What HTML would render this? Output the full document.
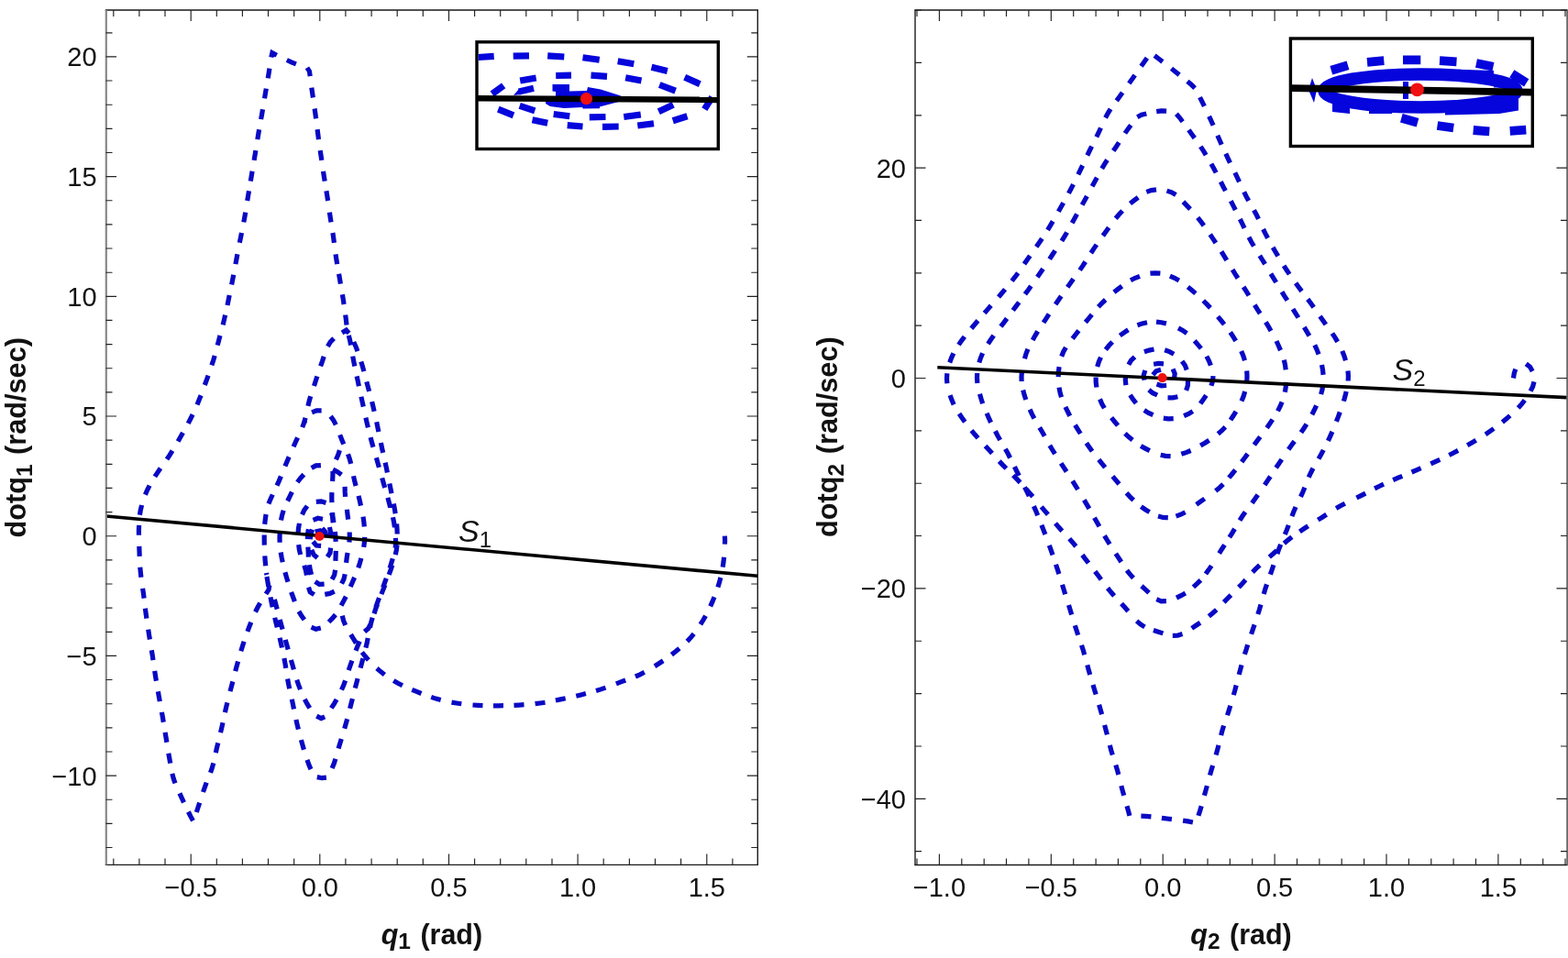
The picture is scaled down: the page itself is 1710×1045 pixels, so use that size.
<!DOCTYPE html>
<html><head><meta charset="utf-8"><title>Phase portraits</title>
<style>html,body{margin:0;padding:0;background:#fff;}svg{display:block;}</style>
</head><body>
<svg width="1710" height="1045" viewBox="0 0 1710 1045">
<rect width="1710" height="1045" fill="#fff"/>
<defs><clipPath id="cl"><rect x="115.5" y="11" width="710.8" height="932.4"/></clipPath>
<clipPath id="cr"><rect x="998" y="11" width="711" height="932.5"/></clipPath>
<clipPath id="cil"><rect x="521.7" y="47.5" width="260" height="113.3"/></clipPath>
<clipPath id="cir"><rect x="1409.2" y="43.8" width="260.3" height="114"/></clipPath></defs>
<g clip-path="url(#cl)">
<path d="M790.4 584.6L790.6 590.1L790.4 593.6M789.6 607.7L789 613.2L788.2 618.6M785.9 630L784.5 635.3L782.9 640.6M779 651.3L776.9 656.4L774.7 661.4M769.5 671.7L766.8 676.5L763.9 681.2M756.7 691.4L753.2 695.6L749.4 699.6M740.9 707.2L736.7 710.7L732.4 714.1M723.2 720.8L718.6 723.8L714 726.8M702.8 733.3L697.9 735.8L692.9 738M682.2 742L677 743.9L671.9 745.9M660.5 750.1L655.3 751.9L650 753.5M638.9 756.6L633.6 758L628.3 759.3M616.7 761.8L611.3 762.9L605.9 764M594.5 766.2L589.1 767L583.6 767.7M571.5 768.7L566 769.1L560.5 769.4M549 769.7L543.5 769.8L538 769.8M526.5 769.7L521 769.4L515.5 769M503.3 767.8L497.9 767L492.5 766.1M480.7 763.5L475.4 762.1L470.2 760.4M459.5 756.5L454.4 754.4L449.3 752.3M438.9 747.8L434 745.3L429.2 742.5M419.4 736L415.1 732.6L411 729M401.9 719.9L398.2 715.8L394.8 711.5M388.4 701.5L385.5 696.9L382.6 692.2M376.7 682L374.6 676.9L373.3 671.6" fill="none" stroke="#0909c4" stroke-width="5.2"/>
<path d="M290.5 625L290.7 626L291 627M293.9 638.4L293 643.3L290 647.9M283.7 657.8L281 662.6L278.5 667.5M273.8 678.7L271.8 683.8L269.9 688.9M266.1 699.8L264.4 705L262.8 710.3M259.6 721.5L258.1 726.8L256.7 732.1M253.8 743.5L252.4 748.8L251 754.1M247.9 766.4L246.6 771.7L245.4 777.1M243 788.3L241.8 793.7L240.5 799.1M237.8 810.4L236.5 815.7L235.3 821.1M232.8 832.4L231.3 837.7L229.5 842.9M225.2 853.7L223.3 858.8L221.5 864M217.7 875.6L216 880.8L214.3 886M210.5 895.2L207.8 890.4L205.4 885.5M200.5 875.3L198.2 870.3L195.9 865.3M191 854.4L189.2 849.2L187.8 843.9M185.7 832.6L184.8 827.2L183.8 821.8M181.9 809.7L181 804.3L180.1 798.9M178.3 787.7L177.4 782.3L176.4 776.9M174.3 765.1L173.3 759.7L172.4 754.3M170.4 742.7L169.5 737.3L168.7 731.9M167 720.1L166.2 714.7L165.3 709.3M163.4 697.5L162.5 692.1L161.7 686.7M159.9 674.6L159.1 669.2L158.4 663.7M157.1 652.7L156.4 647.2L155.6 641.8M153.9 629.7L153.3 624.2L152.8 618.7M152.2 606.8L152 601.3L151.8 595.8M151.4 583.8L151.4 578.3L151.6 572.8M152.4 561.7L153.3 556.3L154.6 551M158.4 539.6L160.6 534.5L163.1 529.6M168.9 519.9L171.9 515.3L175 510.7M182 501L185.1 496.4L188 491.7M194.1 481.6L196.8 476.8L199.5 472M205.2 461.9L207.7 457L210.1 452.1M215 441.4L217.1 436.3L219.1 431.2M223.3 420L225.2 414.8L227.1 409.6M230.9 398.4L232.6 393.2L234.2 387.9M237.2 376.6L238.6 371.3L240 366M243.1 354.3L244.4 349L245.6 343.6M248 332.9L249.1 327.5L250.2 322.1M252.6 310.5L253.7 305.1L254.7 299.7M256.9 288.1L257.9 282.7L258.9 277.3M261.3 264.8L262.4 259.4L263.5 254M265.8 242.4L266.8 237L267.7 231.6M269.7 219L270.6 213.6L271.5 208.2M273.3 197.6L274.2 192.2L275.1 186.8M277.1 174.9L278 169.5L278.9 164.1M280.8 152.1L281.7 146.7L282.6 141.3M284.6 130.1L285.6 124.7L286.5 119.3M288.5 107.4L289.4 102L290.3 96.6M292.2 85.4L293.1 80L293.9 74.6M295.8 62.5L296.9 57.7L301.8 60.2M312.8 65.5L317.8 67.8L322.9 69.8M334.9 73.8L337.4 77.7L338.2 83.2M339.8 95.7L340.6 101.1L341.4 106.5M343.1 118.5L343.9 123.9L344.6 129.4M346.1 141.2L346.8 146.7L347.5 152.1M349.2 164.1L350 169.5L350.8 174.9M352.5 186.8L353.3 192.2L354.2 197.6M355.9 208.2L356.8 213.6L357.6 219M359.4 231.6L360.2 237L361 242.4M362.9 254L363.7 259.4L364.4 264.8M366 277.3L366.8 282.7L367.7 288.1M369.6 298.8L370.5 304.2L371.4 309.6M373.4 321.2L374.3 326.6L375.1 332M376.7 343.5L377.4 349L378 354.5M380.3 365.8L381.6 371.1L382.6 376.5M384.7 388.6L385.7 394L386.8 399.4M389.1 410.4L390.3 415.8L391.4 421.2M393.9 432.8L395.1 438.2L396.3 443.6M398.9 455.6L400.1 461L401.4 466.4M404.1 477.2L405.5 482.5L407 487.8M410.4 499.3L411.9 504.6L413.4 509.9M416.7 521.4L418.2 526.7L419.7 532M422.9 542.9L424.3 548.2L425.7 553.5M428.5 564.3L429.6 569.7L430.4 575.1M431.4 586.9L431.6 592.4L431.2 597.8M428.3 609.2L426.7 614.5L425.1 619.7M421.3 630.9L419.4 636L417.6 641.2M413.5 652.2L411.6 657.4L409.8 662.6M406.2 673.8L404.7 679.1L403.5 684.4M401.2 696L400.2 701.4L398.9 706.7M395.9 718.1L394.5 723.4L393.1 728.7M390.1 740.1L388.7 745.4L387.3 750.7M384.4 762.1L383 767.5L381.6 772.8M378.7 784.2L377.2 789.5L375.7 794.8M372.3 806L370.7 811.2L369.1 816.5M365.9 827.8L364.2 833.1L362.1 838.1M355.9 848.1L351.2 848.7L345.8 847.6M339 839.1L336.8 834.1L335 828.9M331.4 817.7L329.9 812.4L328.4 807.1M325.4 795.7L324.1 790.4L322.9 785M320.5 773.5L319.4 768.1L318.3 762.7M315.7 751.3L314.6 745.9L313.6 740.5M311.8 728.9L310.9 723.4L309.9 718M307.5 706.5L306.3 701.1L305.1 695.8M302.3 684.4L300.9 679L299.7 673.7M297.2 662.2L296 656.8L295 651.4M292.8 639.9L291.9 634.4L291 629M289.7 617.3L289.2 611.9L288.8 606.4M288.3 594.6L288.2 589.1L288.2 583.6M288.7 571.9L289.3 566.4L290.1 561M292.9 549.6L295 544.5L297.3 539.5M302 529.6L304.3 524.6L306.4 519.5M310.9 508.5L313 503.4L315.2 498.4M320.1 487.3L322.3 482.3L324.6 477.3M329.7 466.2L331.6 461.1L333.1 455.8M335.9 442.8L337.2 437.5L338.7 432.2M342.5 421L344.2 415.8L345.9 410.5M349.6 399.3L351.5 394.1L353.2 388.9M357.4 377.8L360.2 373.1L364.1 369.2M373 363L377.6 360.1L380.6 363.4M385.7 373L388 378L390 383.1M393.8 394.5L395.4 399.8L396.9 405.1M399.8 416.3L401.2 421.6L402.6 426.9M405.6 438.1L406.9 443.4L408.1 448.8M410.7 460.3L411.8 465.7L412.9 471.1M415.4 483.1L416.5 488.5L417.7 493.9M420.1 504.6L421.3 510L422.4 515.4M424.8 527.4L425.9 532.8L427 538.2M429.3 549.5L430.3 554.9L431.2 560.3M432.6 571.5L433 577L433.2 582.5M433 594.3L432.4 599.7L431.2 605.1M427.8 616.4L426.1 621.6L424.2 626.8M420 637.8L418 642.9L415.9 648.1M411.6 659L409.7 664.2L408 669.4M404.2 680.6L401.7 685.5L397.5 689M392.2 699.5L390.1 704.6L388 709.7M383.9 720.7L382 725.9L380.2 731.1M376.6 742.3L374.7 747.5L372.5 752.5M367.1 763L364.3 767.8L361.3 772.4M354.2 781.8L350.2 783.6L345.3 781.1M337.8 772.4L334.9 767.7L332.3 762.8M327.5 752.1L325.5 746.9L323.7 741.7M320.4 730.4L318.9 725.1L317.4 719.9M314.2 708.5L312.7 703.2L311.2 697.9M308.1 686.5L306.6 681.2L305.2 675.9M302.2 664.5L300.8 659.2L299.4 653.9" fill="none" stroke="#0909c4" stroke-width="5.2"/>
<path d="M331.6 461.1L332.2 459.9L332.8 458.6M340.1 449.9L345.2 447.9L350.6 447.9M360.6 454.1L363.8 458.5L366.3 463.4M370.7 474.4L372.7 479.5L374.8 484.6M379.5 495.4L381.3 500.6L382.7 505.9M385.5 519.3L386.7 524.7L388.1 530M391 540.9L392.3 546.2L393.5 551.6M396 563.6L396.8 569L397.3 574.5M397.7 585.9L397.4 591.4L396.7 596.8M393.9 608.9L392.4 614.2L390.7 619.4M386.6 629.9L384.4 635L382.2 640M377.3 650.7L374.7 655.6L372.1 660.4M365.9 670.5L362.4 674.7L358.5 678.5M349.8 685L344.5 686.3L339.5 684.1M331.9 676L328.7 671.6L325.9 666.9M321.4 656.1L319.5 651L317.6 645.8M314 634.8L312.4 629.5L310.9 624.2M308.2 613.3L307.1 607.9L306.2 602.5M305.1 591.8L305 586.3L305.2 580.8M306.5 567.5L307.6 562.1L309.2 556.8M313.6 546.5L316 541.6L318.4 536.7M324.3 526L327.6 521.6L331.4 517.6M339.7 510.6L344.5 507.9L349.9 507.6M363.1 512.1L368 514.6L372.4 517.8M376.1 530.9L376.2 536.4L376.6 541.9M378.4 555.7L379 561.2L379.7 566.6M381.2 580.5L381.3 586L380.9 591.5M379.1 603L378.2 608.4L377.6 613.9M376.2 626.2L375 631.6L372.6 636.6M364.7 645.1L359.7 647.4L354.3 648.4M342.6 648.7L338.2 645.8L336.5 640.6M334.5 627.5L333.4 622.1L331.8 616.8M327.7 605L326.4 599.7L325.7 594.2M325.1 581.8L325.5 576.3L326.5 570.9M329.5 561.3L331.8 556.3L335.1 552M344.8 547.3L350.3 546.8L355.5 548.5M361.6 559.4L362.9 564.7L364 570.1M365.4 580L365.9 585.4L366.2 590.9M366.3 600.9L366.1 606.4L365.9 611.9M365.6 621.8L364.7 627.2L362.1 632M353.6 637.1L348.2 637.4L343.7 634.3M339.6 626.9L338.3 621.6L337.3 616.1M336.4 607.6L336.2 602.1L335.9 596.6M335.4 588.1L335.5 582.6L336.4 577.2M341.5 567.3L346.6 565.3L352 566.2M359.4 574.9L360.5 580.3L360.6 585.8M360.6 597.6L360 603L357.1 607.5M346.2 608.4L342 604.9L339.8 599.9M338.3 588.2L338.9 582.8L340.6 577.6M351.3 576.2L354.8 580.3L356 585.7M350.1 595.4L345 595L341.4 590.8M343.7 580.1L348.8 578.9L351.9 583.3" fill="none" stroke="#0909c4" stroke-width="5.2"/>
<path d="M370.4 491.1L368.7 496.3L366.4 501.3M363 514L362.9 519.5L362.6 525M361.9 537.1L361.8 542.6L361.9 548.1M362.6 559.2L362.9 564.7L363.1 570.2M363.4 582L363.4 584.5L363.5 587" fill="none" stroke="#0909c4" stroke-width="5.2"/>
</g>
<line x1="115.5" y1="563" x2="826.3" y2="628.3" stroke="#000" stroke-width="3.6"/>
<circle cx="348.4" cy="585" r="5.1" fill="#f01010"/>
<path d="M114.8 11H827M114.8 943.4H827" stroke="#1a1a1a" stroke-width="1.4" fill="none"/>
<path d="M115.8 11V943.4" stroke="#888" stroke-width="2.2" fill="none"/>
<path d="M826.3 11V943.4" stroke="#1a1a1a" stroke-width="1.4" fill="none"/>
<path d="M208.2 943.4v-12M208.2 11v12M348.8 943.4v-12M348.8 11v12M489.5 943.4v-12M489.5 11v12M630.1 943.4v-12M630.1 11v12M770.8 943.4v-12M770.8 11v12M123.8 943.4v-7M123.8 11v7M151.9 943.4v-7M151.9 11v7M180 943.4v-7M180 11v7M236.3 943.4v-7M236.3 11v7M264.4 943.4v-7M264.4 11v7M292.5 943.4v-7M292.5 11v7M320.7 943.4v-7M320.7 11v7M376.9 943.4v-7M376.9 11v7M405.1 943.4v-7M405.1 11v7M433.2 943.4v-7M433.2 11v7M461.3 943.4v-7M461.3 11v7M517.6 943.4v-7M517.6 11v7M545.7 943.4v-7M545.7 11v7M573.8 943.4v-7M573.8 11v7M602 943.4v-7M602 11v7M658.2 943.4v-7M658.2 11v7M686.4 943.4v-7M686.4 11v7M714.5 943.4v-7M714.5 11v7M742.6 943.4v-7M742.6 11v7M798.9 943.4v-7M798.9 11v7" stroke="#222" stroke-width="1.15" fill="none"/>
<path d="M115.5 846.1h11.5M826.3 846.1h-11.5M115.5 715.4h11.5M826.3 715.4h-11.5M115.5 584.7h11.5M826.3 584.7h-11.5M115.5 454h11.5M826.3 454h-11.5M115.5 323.3h11.5M826.3 323.3h-11.5M115.5 192.6h11.5M826.3 192.6h-11.5M115.5 61.9h11.5M826.3 61.9h-11.5M115.5 924.5h7M826.3 924.5h-7M115.5 898.4h7M826.3 898.4h-7M115.5 872.2h7M826.3 872.2h-7M115.5 820h7M826.3 820h-7M115.5 793.8h7M826.3 793.8h-7M115.5 767.7h7M826.3 767.7h-7M115.5 741.5h7M826.3 741.5h-7M115.5 689.3h7M826.3 689.3h-7M115.5 663.1h7M826.3 663.1h-7M115.5 637h7M826.3 637h-7M115.5 610.8h7M826.3 610.8h-7M115.5 558.6h7M826.3 558.6h-7M115.5 532.4h7M826.3 532.4h-7M115.5 506.3h7M826.3 506.3h-7M115.5 480.1h7M826.3 480.1h-7M115.5 427.9h7M826.3 427.9h-7M115.5 401.7h7M826.3 401.7h-7M115.5 375.6h7M826.3 375.6h-7M115.5 349.4h7M826.3 349.4h-7M115.5 297.2h7M826.3 297.2h-7M115.5 271h7M826.3 271h-7M115.5 244.9h7M826.3 244.9h-7M115.5 218.7h7M826.3 218.7h-7M115.5 166.5h7M826.3 166.5h-7M115.5 140.3h7M826.3 140.3h-7M115.5 114.2h7M826.3 114.2h-7M115.5 88h7M826.3 88h-7M115.5 35.8h7M826.3 35.8h-7" stroke="#222" stroke-width="1.15" fill="none"/>
<text x="208.2" y="977.5" font-family="Liberation Sans, Arial, sans-serif" font-size="29" text-anchor="middle" fill="#111">−0.5</text>
<text x="348.8" y="977.5" font-family="Liberation Sans, Arial, sans-serif" font-size="29" text-anchor="middle" fill="#111">0.0</text>
<text x="489.5" y="977.5" font-family="Liberation Sans, Arial, sans-serif" font-size="29" text-anchor="middle" fill="#111">0.5</text>
<text x="630.1" y="977.5" font-family="Liberation Sans, Arial, sans-serif" font-size="29" text-anchor="middle" fill="#111">1.0</text>
<text x="770.8" y="977.5" font-family="Liberation Sans, Arial, sans-serif" font-size="29" text-anchor="middle" fill="#111">1.5</text>
<text x="105.6" y="856.5" font-family="Liberation Sans, Arial, sans-serif" font-size="29" text-anchor="end" fill="#111">−10</text>
<text x="105.6" y="725.8" font-family="Liberation Sans, Arial, sans-serif" font-size="29" text-anchor="end" fill="#111">−5</text>
<text x="105.6" y="595.1" font-family="Liberation Sans, Arial, sans-serif" font-size="29" text-anchor="end" fill="#111">0</text>
<text x="105.6" y="464.4" font-family="Liberation Sans, Arial, sans-serif" font-size="29" text-anchor="end" fill="#111">5</text>
<text x="105.6" y="333.7" font-family="Liberation Sans, Arial, sans-serif" font-size="29" text-anchor="end" fill="#111">10</text>
<text x="105.6" y="203" font-family="Liberation Sans, Arial, sans-serif" font-size="29" text-anchor="end" fill="#111">15</text>
<text x="105.6" y="72.3" font-family="Liberation Sans, Arial, sans-serif" font-size="29" text-anchor="end" fill="#111">20</text>
<g clip-path="url(#cr)">
<path d="M1650.5 412.5L1651.3 407.1L1652.8 402.6M1664.3 396.9L1668.6 400.3L1671.2 405.1M1673 416.4L1671.6 421.7L1669.1 426.6M1662.8 436.5L1659.4 440.9L1655.7 445M1646.8 453.4L1642.6 457L1638.4 460.5M1629.1 467.5L1624.6 470.7L1620 473.8M1609.7 480.2L1605 483L1600.2 485.8M1590.1 491.4L1585.2 494L1580.3 496.5M1570.3 501.3L1565.3 503.6L1560.3 505.9M1549.6 510.6L1544.6 512.8L1539.5 515M1529.3 519.3L1524.2 521.4L1519.2 523.6M1509 528.2L1504 530.5L1499.1 532.9M1489.2 538.1L1484.3 540.6L1479.4 543M1466.8 549.2L1461.9 551.8L1457.1 554.6M1446.6 561.2L1442 564.2L1437.3 567.1M1426.6 573.7L1422 576.7L1417.4 579.8M1408.9 585.7L1404.6 589.1L1400.4 592.7M1392.5 600.3L1388.5 604L1384.3 607.6M1373.8 616.5L1369.8 620.2L1366 624.1M1358.4 632.6L1354.7 636.7L1350.9 640.6M1342.4 649.1L1338.5 653L1334.7 656.9M1326.7 665.1L1322.6 668.8L1318.3 672.3M1308.9 679.2L1304.3 682.2L1299.7 685.3M1289.5 691.5L1284.3 693.2L1278.8 693.3M1268.4 690.9L1263.2 689.2L1257.9 687.6M1248.4 683.9L1243.7 681L1239.6 677.4M1230.3 666.7L1226.7 662.5L1223 658.5M1215.1 650L1211.5 645.8L1208 641.5M1200.9 632.2L1197.6 627.8L1194.2 623.4M1187.1 614.2L1183.7 609.8L1180.4 605.4M1173.3 596L1169.8 591.7L1166.2 587.6M1158.3 579.2L1154.6 575.1L1151 570.9M1142.9 561.3L1139.3 557.1L1135.7 552.9M1126.3 541.8L1122.7 537.6L1119.1 533.5M1112.6 526.4L1108.8 522.4L1104.9 518.5M1097.4 511L1093.5 507.1L1089.7 503.1M1082 494.6L1078.3 490.5L1074.6 486.5M1066.6 477.9L1063 473.8L1059.5 469.6M1052.3 460.3L1049.1 455.8L1046 451.2M1040.2 441.4L1038 436.4L1036.1 431.2M1032.9 418.3L1032.5 412.8L1032.9 407.3M1035.7 395.5L1037.6 390.3L1039.9 385.3M1045.5 376.1L1048.6 371.6L1051.9 367.2M1059.3 358.2L1062.9 354L1066.5 349.8M1073.6 341.5L1077.2 337.4L1080.8 333.3M1089 324L1092.6 319.8L1096.1 315.6M1103.5 306.5L1106.9 302.2L1110.2 297.8M1117 288L1120.1 283.5L1123.3 279M1130.2 269.3L1133.3 264.8L1136.4 260.2M1142.5 250.8L1145.4 246.1L1148.2 241.4M1154.3 230.8L1157 226L1159.7 221.2M1165.4 210.9L1168 206L1170.5 201.1M1175.8 190.4L1178.2 185.5L1180.6 180.5M1185.8 169.5L1188.2 164.5L1190.6 159.6M1195.8 149.4L1198.2 144.5L1200.5 139.5M1205.6 128.5L1208.2 123.6L1211.1 118.9M1217.7 109.9L1220.9 105.5L1224.1 101M1231.3 90.9L1234.5 86.4L1237.7 81.9M1244.5 72.2L1247.7 67.7L1250.9 63.2M1259.1 60.6L1263.5 64L1267.9 67.4M1277.5 74.8L1281.8 78.2L1286.1 81.6M1294.9 88.8L1299.2 92.3L1303.1 96.1M1308.5 106.1L1311 111L1313.4 115.9M1318.6 126.8L1320.9 131.8L1323.1 136.8M1327.8 147.7L1330 152.7L1332.2 157.7M1336.8 167.7L1339.1 172.7L1341.5 177.7M1346.8 188.4L1349.2 193.3L1351.5 198.3M1356.7 209.3L1359.1 214.2L1361.7 219M1367.5 229.2L1370.1 234L1372.5 238.9M1377.6 250L1380 254.9L1382.6 259.8M1388.2 269.9L1391 274.7L1393.8 279.4M1400.1 289.9L1403.1 294.5L1406.2 299.1M1413.1 308.8L1416.3 313.2L1419.6 317.6M1426.2 326.4L1429.5 330.8L1432.7 335.3M1439.5 345L1442.7 349.5L1445.9 354M1452.9 363.6L1455.9 368.2L1458.7 372.9M1463.8 382.9L1465.8 388L1467.5 393.2M1470 404.5L1470.4 410L1470.2 415.5M1468.2 427L1466.9 432.3L1465.4 437.6M1461.3 449.5L1459.4 454.7L1457.4 459.8M1452.9 470.9L1450.7 475.9L1448.4 480.9M1443.3 490.9L1440.7 495.8L1438 500.6M1432 510.8L1429.5 515.7L1427.2 520.7M1422.9 531.7L1420.8 536.8L1418.5 541.8M1413.1 553L1410.9 558L1408.9 563.1M1405.3 572.8L1403.4 577.9L1401.3 583M1396.7 593.9L1394.7 599L1392.9 604.2M1388.9 616.3L1387.2 621.5L1385.4 626.7M1381.5 637.4L1379.8 642.6L1378.2 647.9M1375 659.5L1373.5 664.7L1371.8 670M1368.1 681.4L1366.3 686.6L1364.6 691.8M1360.7 703.2L1359.1 708.5L1357.4 713.7M1354 725.3L1352.6 730.6L1351.2 735.9M1348.2 747.5L1346.8 752.9L1345.3 758.1M1341.8 769.7L1340.2 774.9L1338.5 780.2M1334.6 791.5L1333 796.8L1331.6 802.1M1329 812.9L1327.6 818.2L1326.1 823.5M1322.6 835L1321 840.3L1319.5 845.6M1316.4 857.1L1314.9 862.4L1313.4 867.7M1310.2 879.3L1308.6 884.6L1306.9 889.8M1300.9 897L1295.5 895.9L1290.1 895.1M1277.9 893.7L1272.4 893L1266.9 892.3M1255.4 890.8L1249.9 890.3L1244.4 890.2M1231.9 889.9L1230.5 884.6L1229 879.3M1225.7 867.7L1224.2 862.4L1222.8 857.1M1219.8 845L1218.4 839.7L1216.8 834.4M1213.3 823.5L1211.7 818.2L1210.3 812.9M1207.4 801.4L1206 796.1L1204.6 790.8M1201.6 779.3L1200.1 774L1198.6 768.7M1195.2 757.6L1193.6 752.4L1192 747.1M1188.7 736L1187.2 730.7L1185.8 725.4M1182.7 714.2L1181.2 708.9L1179.5 703.7M1175.7 692.7L1174 687.5L1172.3 682.3M1168.7 670.6L1167.1 665.3L1165.5 660.1M1161.7 648.3L1160.1 643.1L1158.5 637.8M1154.9 626.1L1153.2 620.9L1151.5 615.7M1148 605.3L1146.2 600.1L1144.3 594.9M1139.9 583L1137.9 577.9L1135.9 572.8M1131.7 562.2L1129.6 557.1L1127.4 552.1M1122.3 541.2L1119.9 536.2L1117.5 531.3M1111.3 518.9L1108.8 514L1106.4 509.1M1101.6 499.5L1099.1 494.6L1096.4 489.8M1090.7 480L1088 475.2L1085.4 470.3M1080.6 460.8L1078.3 455.8L1076.1 450.8M1071.7 440.2L1070 435L1068.5 429.7M1065.9 418L1065.5 412.5L1065.7 407M1067.8 395.5L1069.5 390.3L1071.6 385.2M1077.5 375.1L1080.5 370.5L1083.7 366M1091.4 356.1L1094.8 351.8L1098.1 347.4M1104.7 338.5L1108 334.1L1111.3 329.7M1117.9 320.9L1121.2 316.5L1124.4 312M1131.3 302.3L1134.4 297.8L1137.5 293.2M1144.6 282.6L1147.6 278L1150.7 273.4M1157.9 262.8L1160.8 258.2L1163.6 253.5M1169.2 243.2L1171.8 238.4L1174.5 233.6M1180.1 223.6L1182.8 218.8L1185.4 214M1191.1 203.3L1193.7 198.5L1196.3 193.7M1201.7 183.8L1204.5 179.1L1207.5 174.5M1214.2 164.5L1217.3 160L1220.3 155.4M1226.9 145.4L1230 140.9L1233.3 136.5M1240.3 127.8L1244.9 125.3L1250.3 124M1261.2 121.6L1266.6 120.9L1272.1 121.2M1282.9 124.3L1286.4 128.3L1289.7 132.7M1296.4 141.7L1299.6 146.2L1302.8 150.6M1309.3 159.8L1312.3 164.4L1315.2 169.1M1320.9 178.7L1323.6 183.5L1326.2 188.4M1331.3 198.3L1333.8 203.2L1336.4 208.1M1342.3 219.2L1344.8 224.1L1347.3 229M1352.3 239L1354.7 243.9L1357.1 248.8M1362 258.8L1364.6 263.7L1367.4 268.5M1373.8 278.8L1376.7 283.5L1379.6 288.2M1385.9 298.6L1388.8 303.3L1391.7 308M1398 318.4L1400.9 323.1L1403.9 327.7M1410 337.2L1413 341.8L1415.9 346.5M1422.3 356.9L1425.1 361.6L1427.9 366.3M1433.8 376.4L1436.1 381.4L1438.1 386.5M1441.5 398L1442.5 403.4L1443.1 408.9M1442.9 419.5L1442 424.9L1440.6 430.2M1435.6 442.3L1433.3 447.3L1430.8 452.2M1424.9 462.6L1422 467.2L1418.9 471.7M1411.7 481.4L1408.4 485.8L1405.2 490.3M1397.8 501.1L1394.7 505.7L1391.6 510.3M1385.4 519.8L1382.3 524.4L1379.2 529M1371.8 539.8L1368.6 544.3L1365.4 548.7M1358.1 558.5L1354.9 563L1352 567.6M1346.5 576.9L1343.7 581.6L1340.8 586.2M1335.5 594.4L1332.5 599L1329.6 603.7M1321.2 617.1L1318.1 621.6L1314.9 626M1309.4 632.8L1305.5 636.7L1301.4 640.4M1292.8 647L1288 649.7L1283 652.1M1271.9 655.7L1266.4 655.8L1261.3 653.7M1253 646.6L1249 642.8L1244.9 639.2M1236 630.5L1232.3 626.4L1228.9 622.1M1222.8 613L1219.8 608.4L1216.8 603.8M1210.2 593.7L1207.3 589L1204.5 584.3M1198.9 574.3L1196.2 569.5L1193.5 564.7M1187.9 554.9L1185.1 550.1L1182.3 545.4M1175.5 534L1172.6 529.3L1169.7 524.6M1163.1 514.5L1160.1 509.9L1157.1 505.3M1150.5 495.2L1147.6 490.5L1144.8 485.8M1139.2 475.8L1136.5 471L1133.7 466.3M1127.9 456.5L1125.4 451.6L1123.1 446.6M1118.8 436L1117.1 430.8L1115.7 425.5M1114.1 416L1114 410.5L1114.5 405M1117.4 391.2L1119 385.9L1121 380.8M1126.2 370.9L1128.9 366.1L1131.7 361.4M1138 351.9L1141 347.3L1144 342.7M1151.1 332L1154.2 327.5L1157.3 323M1164.2 313.3L1167.4 308.8L1170.6 304.3M1177.6 294.6L1180.7 290.1L1183.7 285.5M1189.8 276L1192.8 271.4L1195.9 266.9M1202.8 257.1L1206 252.7L1209.2 248.2M1216.7 238.2L1220.3 234L1224.1 230M1232.5 222L1236.8 218.6L1241.2 215.3M1250.3 209.4L1255.5 207.6L1261 206.9M1272.5 208.1L1277.7 209.8L1282.4 212.6M1290.4 220.1L1294.2 224.1L1298 228.1M1306.2 237.4L1309.6 241.7L1312.9 246.1M1319.7 255.8L1322.8 260.4L1325.9 265M1332 274.4L1334.9 279.1L1337.8 283.8M1344.1 294.2L1347 298.9L1350 303.5M1356.1 313L1359.1 317.6L1362 322.3M1368.3 332.7L1371.2 337.4L1374.2 342M1380.4 351.4L1383.3 356.1L1386 360.9M1392 372L1394.3 377L1396.5 382.1M1400.3 392.6L1401.5 398L1402.2 403.4M1402.6 416.9L1402.2 422.4L1401.3 427.8M1398.1 438.4L1396 443.5L1393.5 448.4M1387.8 457.6L1384.7 462.2L1381.6 466.7M1374.3 476.5L1371 480.9L1367.8 485.3M1360.7 495.1L1357.4 499.5L1354.1 503.9M1347.2 512.7L1343.7 517L1340.2 521.2M1334 528.2L1330 532L1325.7 535.5M1313.7 544L1309.2 547.2L1304.7 550.3M1292.6 558.7L1287.7 561.2L1282.5 563.1M1273.8 564.7L1268.3 564.5L1263 563.1M1253.6 558.6L1248.9 555.7L1244.4 552.6M1236.2 545.6L1232.3 541.8L1228.5 537.8M1220.5 528L1217 523.8L1213.4 519.6M1205.2 509.9L1201.7 505.7L1198.3 501.4M1191.1 492.2L1187.9 487.7L1184.8 483.2M1178.3 473L1175.4 468.3L1172.5 463.6M1166.8 453.7L1164.3 448.8L1161.9 443.8M1157.5 433.3L1156 428L1155 422.6M1154.2 411.1L1154.4 405.6L1155.1 400.1M1157.7 388.8L1159.7 383.7L1162.4 378.9M1169.6 369.3L1173 365L1176.4 360.7M1183.8 351.5L1187.3 347.3L1190.8 343.1M1197.8 334.8L1201.6 330.8L1205.6 327M1214.9 318.8L1219.2 315.4L1223.6 312.1M1233 305.8L1237.9 303.3L1243 301.3M1254.4 298.2L1259.9 297.8L1265.4 298.2M1275.9 301.1L1281 303.3L1285.8 306M1295.4 313L1299.7 316.5L1303.9 320.1M1312.3 328L1316.2 331.9L1320 335.9M1328.1 345.3L1331.6 349.5L1335.1 353.8M1341.7 362.5L1344.8 367.1L1347.7 371.8M1353.7 382.9L1355.8 388L1357.5 393.2M1359.7 404.5L1360 410L1359.8 415.5M1357.7 427L1356.1 432.3L1354 437.4M1347.9 448.8L1345 453.5L1342 458.1M1336.3 465.8L1332.5 469.7L1328.3 473.3M1318.6 480.2L1314 483.2L1309.2 486M1298.6 491.5L1293.5 493.6L1288.3 495.3M1276.6 497.6L1271.1 497.4L1265.7 496.2M1253.8 491.6L1248.9 489.1L1244.1 486.4M1235.1 480.1L1230.9 476.6L1226.9 472.8M1219.1 464.2L1215.6 460L1212.1 455.7M1204.4 445.3L1201.7 440.5L1199.5 435.4M1195.9 422.5L1195.2 417L1195.1 411.5M1196.7 400L1198.3 394.7L1200.5 389.7M1205.8 381.3L1209.3 377L1213.1 373M1221.3 366L1225.8 362.8L1230.4 359.8M1240.4 354.7L1245.6 352.9L1251 351.7M1261 351.1L1266.5 351.7L1271.9 352.9M1285 357.9L1289.8 360.5L1294.3 363.7M1302.7 371.8L1306.3 375.9L1309.9 380.1M1315.9 388.6L1318.4 393.5L1320.4 398.6M1323 410.1L1322.6 415.5L1320.9 420.8M1315.4 431.2L1312.3 435.7L1309.1 440.2M1300.8 448.6L1296.2 451.5L1291.1 453.7M1279.7 456.6L1274.2 456.8L1268.8 456.1M1257.5 452.7L1252.5 450.4L1247.8 447.6M1239 439.8L1235.5 435.5L1232.5 430.9M1227.9 420.1L1227.3 414.6L1227.6 409.2M1230.8 397.8L1233.5 393.1L1237.5 389.3M1247.9 383.8L1253.1 382.1L1258.5 381M1270.2 381.8L1275.4 383.6L1280.2 386.2M1289.1 393.9L1292.3 398.4L1294.2 403.5M1295.6 415.2L1295.3 420.7L1293.6 425.9M1284.4 432.8L1279 433.9L1273.5 433.9M1262.1 431L1257.1 428.7L1252.9 425.2M1248 414.6L1247.3 409.1L1248.9 403.9M1258.1 397.2L1263.5 396.4L1269 396.9M1279.1 402.5L1281.2 407.5L1280.5 412.9M1272.1 420.5L1266.7 420.8L1261.5 419M1257.3 408.9L1260.9 404.7L1266 403.3M1269.3 412.1L1268.7 412.5L1268 413" fill="none" stroke="#0909c4" stroke-width="5.2"/>
</g>
<line x1="1022.3" y1="400.8" x2="1709" y2="433.6" stroke="#000" stroke-width="3.6"/>
<circle cx="1267.6" cy="412.1" r="5.1" fill="#f01010"/>
<path d="M997.3 11H1709.7M997.3 943.5H1709.7" stroke="#1a1a1a" stroke-width="1.4" fill="none"/>
<path d="M998 11V943.5" stroke="#1a1a1a" stroke-width="1.4" fill="none"/>
<path d="M1709.2 11V943.5" stroke="#6a6a6a" stroke-width="2.0" fill="none"/>
<path d="M1024.4 943.5v-12M1024.4 11v12M1146.3 943.5v-12M1146.3 11v12M1268.2 943.5v-12M1268.2 11v12M1390.1 943.5v-12M1390.1 11v12M1512 943.5v-12M1512 11v12M1633.9 943.5v-12M1633.9 11v12M1000 943.5v-7M1000 11v7M1048.8 943.5v-7M1048.8 11v7M1073.2 943.5v-7M1073.2 11v7M1097.5 943.5v-7M1097.5 11v7M1121.9 943.5v-7M1121.9 11v7M1170.7 943.5v-7M1170.7 11v7M1195.1 943.5v-7M1195.1 11v7M1219.4 943.5v-7M1219.4 11v7M1243.8 943.5v-7M1243.8 11v7M1292.6 943.5v-7M1292.6 11v7M1317 943.5v-7M1317 11v7M1341.3 943.5v-7M1341.3 11v7M1365.7 943.5v-7M1365.7 11v7M1414.5 943.5v-7M1414.5 11v7M1438.9 943.5v-7M1438.9 11v7M1463.2 943.5v-7M1463.2 11v7M1487.6 943.5v-7M1487.6 11v7M1536.4 943.5v-7M1536.4 11v7M1560.8 943.5v-7M1560.8 11v7M1585.1 943.5v-7M1585.1 11v7M1609.5 943.5v-7M1609.5 11v7M1658.3 943.5v-7M1658.3 11v7M1682.7 943.5v-7M1682.7 11v7M1707 943.5v-7M1707 11v7" stroke="#222" stroke-width="1.15" fill="none"/>
<path d="M998 871.3h11.5M1709 871.3h-11.5M998 641.9h11.5M1709 641.9h-11.5M998 412.5h11.5M1709 412.5h-11.5M998 183.1h11.5M1709 183.1h-11.5M998 928.6h7M1709 928.6h-7M998 814h7M1709 814h-7M998 756.6h7M1709 756.6h-7M998 699.2h7M1709 699.2h-7M998 584.5h7M1709 584.5h-7M998 527.2h7M1709 527.2h-7M998 469.9h7M1709 469.9h-7M998 355.1h7M1709 355.1h-7M998 297.8h7M1709 297.8h-7M998 240.4h7M1709 240.4h-7M998 125.8h7M1709 125.8h-7M998 68.4h7M1709 68.4h-7M998 11h7M1709 11h-7" stroke="#222" stroke-width="1.15" fill="none"/>
<text x="1024.4" y="977.5" font-family="Liberation Sans, Arial, sans-serif" font-size="29" text-anchor="middle" fill="#111">−1.0</text>
<text x="1146.3" y="977.5" font-family="Liberation Sans, Arial, sans-serif" font-size="29" text-anchor="middle" fill="#111">−0.5</text>
<text x="1268.2" y="977.5" font-family="Liberation Sans, Arial, sans-serif" font-size="29" text-anchor="middle" fill="#111">0.0</text>
<text x="1390.1" y="977.5" font-family="Liberation Sans, Arial, sans-serif" font-size="29" text-anchor="middle" fill="#111">0.5</text>
<text x="1512" y="977.5" font-family="Liberation Sans, Arial, sans-serif" font-size="29" text-anchor="middle" fill="#111">1.0</text>
<text x="1633.9" y="977.5" font-family="Liberation Sans, Arial, sans-serif" font-size="29" text-anchor="middle" fill="#111">1.5</text>
<text x="988" y="881.7" font-family="Liberation Sans, Arial, sans-serif" font-size="29" text-anchor="end" fill="#111">−40</text>
<text x="988" y="652.3" font-family="Liberation Sans, Arial, sans-serif" font-size="29" text-anchor="end" fill="#111">−20</text>
<text x="988" y="422.9" font-family="Liberation Sans, Arial, sans-serif" font-size="29" text-anchor="end" fill="#111">0</text>
<text x="988" y="193.5" font-family="Liberation Sans, Arial, sans-serif" font-size="29" text-anchor="end" fill="#111">20</text>
<text x="470.9" y="1029.5" font-family="Liberation Sans, Arial, sans-serif" font-weight="bold" font-size="30.5" text-anchor="middle" fill="#111"><tspan font-style="italic">q</tspan><tspan font-size="24.5" dy="5.6">1</tspan><tspan dy="-5.6" dx="2"> (rad)</tspan></text>
<text x="1353.5" y="1029.5" font-family="Liberation Sans, Arial, sans-serif" font-weight="bold" font-size="30.5" text-anchor="middle" fill="#111"><tspan font-style="italic">q</tspan><tspan font-size="24.5" dy="5.6">2</tspan><tspan dy="-5.6" dx="2"> (rad)</tspan></text>
<text transform="translate(28.4 477.3) rotate(-90)" x="0" y="0" font-family="Liberation Sans, Arial, sans-serif" font-weight="bold" font-size="30.7" text-anchor="middle" fill="#111">dotq<tspan font-size="24.5" dy="7">1</tspan><tspan dy="-7" dx="2"> (rad/sec)</tspan></text>
<text transform="translate(912.6 476.6) rotate(-90)" x="0" y="0" font-family="Liberation Sans, Arial, sans-serif" font-weight="bold" font-size="30.7" text-anchor="middle" fill="#111">dotq<tspan font-size="24.5" dy="7">2</tspan><tspan dy="-7" dx="2"> (rad/sec)</tspan></text>
<text x="500" y="590.5" font-family="Liberation Sans, Arial, sans-serif" font-size="34" font-style="italic" fill="#111">S<tspan font-style="normal" font-size="24" dy="6">1</tspan></text>
<text x="1518.5" y="414.5" font-family="Liberation Sans, Arial, sans-serif" font-size="34" font-style="italic" fill="#111">S<tspan font-style="normal" font-size="24" dy="6">2</tspan></text>
<rect x="520" y="45.8" width="263.3" height="116.7" fill="#fff" stroke="#000" stroke-width="3.4"/>
<g clip-path="url(#cil)">
<path d="M521.3 62.5L538.7 61.3M559.7 61.2L577 60.8M597.2 60.8L615.3 62M635.5 62.8L653.7 65.3M673.7 66.7L691.3 69.7M710.5 73.3L727.8 77.5M746.7 84.2L763.3 91.7M776.7 105.8L768.3 119.2M749.5 126.7L733.8 131.7M713 134.7L695.3 137M674.7 138L657 138.3M635.5 138L618.7 136.7M597.2 134.2L580.5 130.8M560 125.8L543.3 119.2M536.7 102.5L549.2 93.3M567.2 88L584.7 85M606.2 82.5L623 82.2M644.5 82.2L662 83.3M682.2 84.7L699.5 88M719.2 92.5L736.7 99.2M734.2 114.2L718.3 121.7M698.8 125L680.3 127.5M660.5 127.5L642.8 127.8M621.3 126.7L603.7 124.5M583.3 120.8L566.7 115.3M565.8 100L582 96.3" stroke="#0505dc" stroke-width="7.2" fill="none" stroke-linecap="butt"/>
<path d="M602.5 92 L621 92 L621 99.6 L640 99 L641 95 L655 97.5 L677 104.6 L677 108 L606 108 L606 100 L602.5 99.6 Z" fill="#0505dc"/>
<path d="M595 110 L676 109 L674.7 111 L654 116.5 L654 118.2 L635.4 118.5 L635.4 117 L615 118 L600 116 L595 113 Z" fill="#0505dc"/>
<path d="M560 104 L566 97 L569 103 Z" fill="#0505dc"/>
</g>
<line x1="521" y1="107.2" x2="782" y2="108.9" stroke="#000" stroke-width="6.6"/>
<circle cx="639.5" cy="107.7" r="6.6" fill="#f01010"/>
<rect x="1407.4" y="42" width="263.9" height="117.5" fill="#fff" stroke="#000" stroke-width="3.4"/>
<g clip-path="url(#cir)">
<ellipse cx="1549" cy="99" rx="105" ry="18" fill="none" stroke="#0505dc" stroke-width="13.5"/>
<path d="M1451.8 76.7L1470 71.2M1491 67.8L1509.3 66.2M1530 65.3L1549.3 65.3M1570 66.2L1588.5 67.3M1610 69L1628.5 72.8M1648.8 80.3L1664.7 90.3M1528.3 128.7L1546 133.7M1567.5 137L1585.2 139.5M1606.7 142L1624.3 143.3M1646.7 142.8L1664.3 141.7" stroke="#0505dc" stroke-width="9.8" fill="none" stroke-linecap="butt"/>
<path d="M1431 85 L1436 98 L1433 112 L1427 98 Z" fill="#0505dc"/>
<rect x="1530" y="89" width="6" height="19" fill="#0505dc"/>
<path d="M1590 75.7 L1629 77 L1629 93 L1590 88 Z M1629 86 L1655 86 L1655 95.5 L1629 95.5 Z M1576 110 L1635 107.5 L1656 106 L1656 120.5 L1635 124 L1576 125.6 Z M1453 111 L1472 113 L1472 124 L1453 122 Z M1493 110 L1518 112 L1518 124 L1493 124 Z" fill="#0505dc"/>
</g>
<line x1="1409" y1="96.2" x2="1670" y2="100.6" stroke="#000" stroke-width="7.8"/>
<circle cx="1545.5" cy="97.8" r="7.4" fill="#f01010"/>
</svg>
</body></html>
